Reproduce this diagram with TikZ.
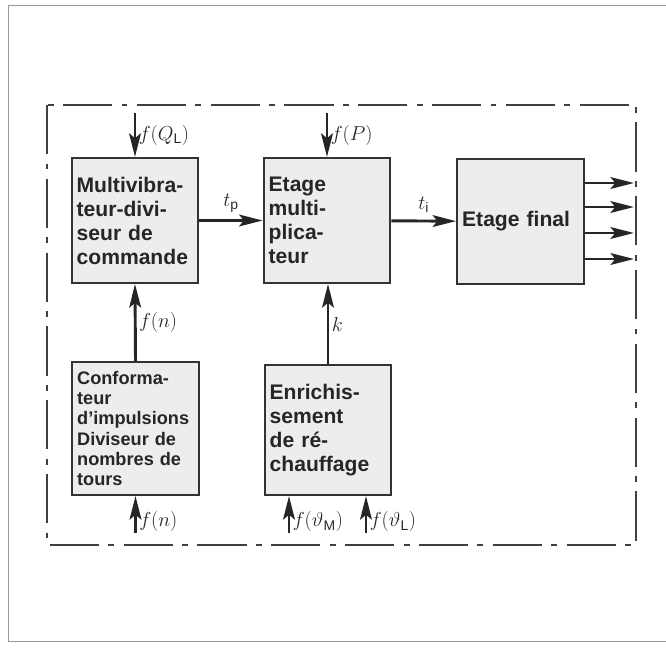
\documentclass[tikz,border=0pt]{standalone}
\usepackage{fontspec}
\setsansfont{Liberation Sans}
\usetikzlibrary{positioning, arrows.meta}

\begin{document}
\begin{tikzpicture}[x=0.03cm, y=-0.03cm,
        blockbox/.style={draw=black!80, line width=1.8pt, fill=black!7, text=black!85,
            inner sep=0.15cm, align=left, text width=3.5cm, minimum height=3.75cm,
            font=\sffamily\bfseries\fontsize{18}{20.5}\selectfont},
        sig/.style={line width=2.5pt, draw=black!85,
            -{Stealth[length=20pt, width=10pt, inset=4pt]}},
        lbl/.style={font=\fontsize{17}{19}\selectfont, text=black!85, inner sep=2pt},
        dashframe/.style={draw=black!75, line width=1.2pt,
            dash pattern=on 42pt off 8pt on 5pt off 8pt}
    ]
    \useasboundingbox (0,0) rectangle (666,648);
    \draw[black!40, line width=0.8pt] (666,5) -- (8,5) -- (8,641) -- (666,641);
    \draw[dashframe] (47,105) rectangle (636,545);

    \node[blockbox] (mv) at (135,220.5) {Multivibra-\\teur-divi-\\seur de\\commande};
    \node[blockbox] (em) at (327,220.5) {Etage\\multi-\\plica-\\teur};
    \node[blockbox] (ef) at (520.5,221.5) {Etage final};
    \node[blockbox, minimum height=3.99cm,
        font=\sffamily\bfseries\fontsize{15.5}{17.2}\selectfont] (ci) at (135.5,428.5)
        {Conforma-\\teur\\d'impulsions\\Diviseur de\\nombres de\\tours};
    \node[blockbox, minimum height=3.9cm] (er) at (328,430) {Enrichis-\\sement\\de r\'e-\\chauffage};

    \coordinate (inq) at (135,113);
    \coordinate (inp) at (327,113);
    \draw[sig] (inq) -- (mv.north) node[lbl, midway, right] {$f(Q_\mathsf{L})$};
    \draw[sig] (inp) -- (em.north) node[lbl, midway, right] {$f(P)$};
    \draw[sig] (mv) -- (em) node[lbl, midway, above=4pt] {$t_\mathsf{p}$};
    \draw[sig] (em) -- (ef) node[lbl, midway, above=4pt] {$t_\mathsf{i}$};
    \foreach \y [count=\i] in {183,207,233,259} {
        \coordinate (out\i) at (634,\y);
        \draw[sig] (ef.east |- out\i) -- (out\i);
    }
    \draw[sig] (ci.north) -- (mv.south) node[lbl, midway, right] {$f(n)$};
    \draw[sig] (er.north) -- (er.north |- em.south) node[lbl, midway, right] {$k$};

    \coordinate (inn) at (135.5,533);
    \coordinate (inm) at (289,533);
    \coordinate (inl) at (366,533);
    \draw[sig] (inn) -- (inn |- ci.south) node[lbl, pos=0.3, right] {$f(n)$};
    \draw[sig] (inm) -- (inm |- er.south) node[lbl, pos=0.3, right] {$f(\vartheta_\mathsf{M})$};
    \draw[sig] (inl) -- (inl |- er.south) node[lbl, pos=0.3, right] {$f(\vartheta_\mathsf{L})$};
\end{tikzpicture}
\end{document}
